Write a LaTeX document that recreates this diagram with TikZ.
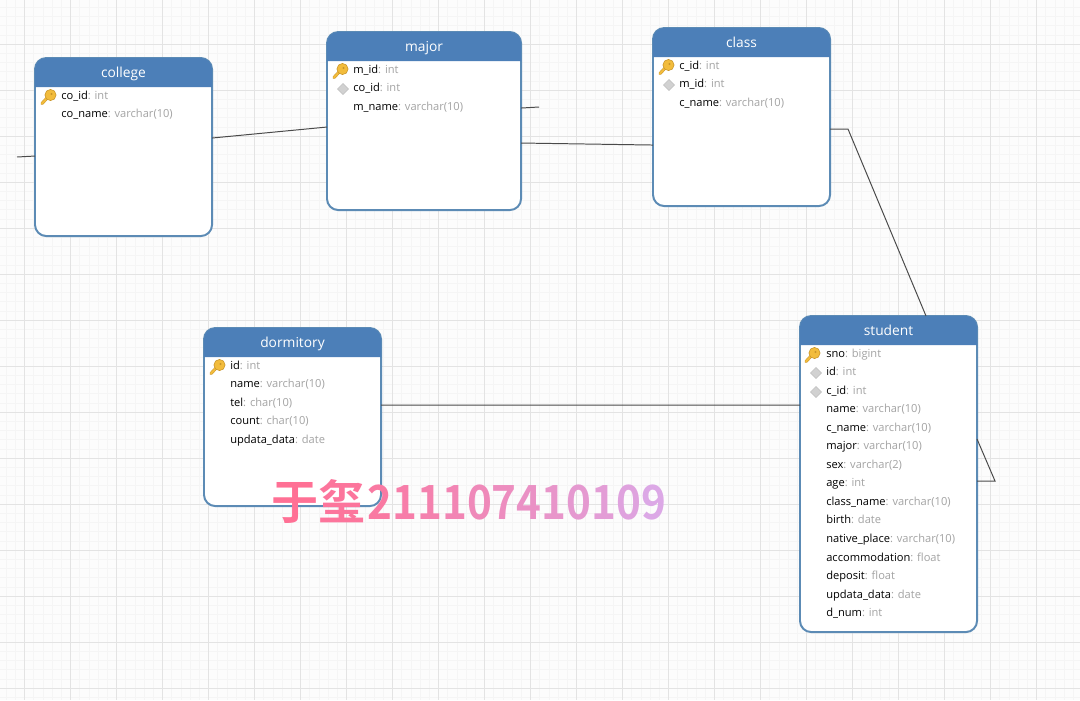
\documentclass[tikz,border=0pt]{standalone}
\usepackage{fontspec}
\usepackage{xcolor}
\usetikzlibrary{calc,shapes.geometric}
\setmainfont{Open Sans}
\newfontfamily\cjkbold{Noto Sans CJK SC Bold}
\newfontfamily\digitbold[FakeStretch=0.895]{Noto Sans CJK SC Bold}
\definecolor{headblue}{HTML}{4C7FB8}
\definecolor{edgeblue}{HTML}{5C8BB5}
\definecolor{typegray}{HTML}{A3A3A3}
\definecolor{linkgray}{HTML}{4A4A4A}
\definecolor{keygold}{HTML}{F2BC3C}
\definecolor{keyedge}{HTML}{C9952A}
\definecolor{markampink}{HTML}{FF7095}
\definecolor{marklilac}{HTML}{DCA8E6}
\tikzset{
	tablebox/.style={draw=edgeblue, line width=1.4pt, fill=white, rounded corners=8, anchor=north west, inner sep=0pt, outer sep=0pt},
	tabletitle/.style={anchor=base, text=white, inner sep=0pt, font=\fontsize{9.8}{11}\selectfont},
	rowtext/.style={anchor=base west, inner sep=0pt, font=\fontsize{7.9}{10}\selectfont},
	fkmark/.style={diamond, draw=black!25, fill=black!18, line width=0.4pt, minimum size=8pt, inner sep=0pt},
	link/.style={draw=linkgray, line width=0.7pt},
	minorgrid/.style={draw=black!4, line width=0.35pt},
	majorgrid/.style={draw=black!11, line width=0.45pt},
	keyicon/.pic={
		\draw[keyedge, line width=2.2pt, line cap=round] (-5,6.5) -- (1,0);
		\draw[keygold, line width=1.5pt, line cap=round] (-5,6.5) -- (1,0);
		\fill[keygold, draw=keyedge, line width=0.4pt] (3.5,-2) circle[radius=5.6];
		\fill[keyedge] (4.5,-3) circle[radius=1.1];
	}
}
\begin{document}
\begin{tikzpicture}[x=0.025cm, y=-0.025cm]
	\useasboundingbox (0,0) rectangle (1080,700);
	\fill[black!1] (0,0) rectangle (1080,700);

	% Grid
	\foreach \i in {0,...,117} {
		\draw[minorgrid] ({6.1+9.2*\i},0) -- ({6.1+9.2*\i},700);
	}
	\foreach \i in {0,...,76} {
		\draw[minorgrid] (0,{7.2+9.2*\i}) -- (1080,{7.2+9.2*\i});
	}
	\foreach \i in {0,...,23} {
		\draw[majorgrid] ({24.5+46*\i},0) -- ({24.5+46*\i},700);
	}
	\foreach \i in {0,...,15} {
		\draw[majorgrid] (0,{44+46*\i}) -- (1080,{44+46*\i});
	}

	% Tables
	\node[tablebox, minimum width=4.425cm, minimum height=4.45cm] (college) at (35,58) {};
	\node[tablebox, minimum width=4.85cm, minimum height=4.45cm] (major) at (327,32) {};
	\node[tablebox, minimum width=4.425cm, minimum height=4.45cm] (class) at (653,28) {};
	\node[tablebox, minimum width=4.425cm, minimum height=4.45cm] (dormitory) at (204,328) {};
	\node[tablebox, minimum width=4.425cm, minimum height=7.9cm] (student) at (800,316) {};

	% Title bars
	\foreach \tbl in {college,major,class,dormitory,student} {
		\fill[headblue] ($(\tbl.north west)+(0,29)$) [rounded corners=8] -- (\tbl.north west) -- (\tbl.north east) [sharp corners] -- ($(\tbl.north east)+(0,29)$) -- cycle;
		\node[tabletitle] (\tbl-title) at ($(\tbl.north)+(0,19)$) {\tbl};
	}

	% Columns
	\foreach \nm/\tp [count=\i] in {co\_id/int, co\_name/varchar(10)} {
		\node[rowtext] (college-\i) at (61,{99+18.5*(\i-1)}) {\nm\textcolor{typegray}{: \tp}};
	}
	\foreach \nm/\tp [count=\i] in {m\_id/int, co\_id/int, m\_name/varchar(10)} {
		\node[rowtext] (major-\i) at (353,{73+18.5*(\i-1)}) {\nm\textcolor{typegray}{: \tp}};
	}
	\foreach \nm/\tp [count=\i] in {c\_id/int, m\_id/int, c\_name/varchar(10)} {
		\node[rowtext] (class-\i) at (679,{69+18.5*(\i-1)}) {\nm\textcolor{typegray}{: \tp}};
	}
	\foreach \nm/\tp [count=\i] in {id/int, name/varchar(10), tel/char(10), count/char(10), updata\_data/date} {
		\node[rowtext] (dormitory-\i) at (230,{369+18.5*(\i-1)}) {\nm\textcolor{typegray}{: \tp}};
	}
	\foreach \nm/\tp [count=\i] in {sno/bigint, id/int, c\_id/int, name/varchar(10), c\_name/varchar(10), major/varchar(10), sex/varchar(2), age/int, class\_name/varchar(10), birth/date, native\_place/varchar(10), accommodation/float, deposit/float, updata\_data/date, d\_num/int} {
		\node[rowtext] (student-\i) at (826,{357+18.55*(\i-1)}) {\nm\textcolor{typegray}{: \tp}};
	}

	% Primary keys
	\pic at (47,97) {keyicon};
	\pic at (339,71) {keyicon};
	\pic at (665,67) {keyicon};
	\pic at (216,367) {keyicon};
	\pic at (811,355) {keyicon};

	% Foreign keys
	\node[fkmark] (major-fk) at (343,89) {};
	\node[fkmark] (class-fk) at (669,85) {};
	\node[fkmark] (student-fk1) at (816,373) {};
	\node[fkmark] (student-fk2) at (816,392) {};

	% Free line ends
	\coordinate (collegestub) at (17,157);
	\coordinate (majorstub) at (539,107);
	\coordinate (classbend) at (848,129);
	\coordinate (studentbend) at (995,481);

	% Links
	\draw[link] (collegestub) -- ($(college.west)+(0,9)$);
	\draw[link] ($(college.east)+(0,-9)$) -- ($(major.west)+(0,6)$);
	\draw[link] ($(major.east)+(0,-13)$) -- (majorstub);
	\draw[link] ($(major.east)+(0,22)$) -- ($(class.west)+(0,28)$);
	\draw[link] ($(class.east)+(0,12)$) -- (classbend) -- ($(student.north)+(37.5,0)$);
	\draw[link] ($(dormitory.east)+(0,-12)$) -- ($(student.west)+(0,-69)$);
	\draw[link] ($(student.east)+(0,-35)$) -- (studentbend) -- ($(student.east)+(0,7)$);

	% Name mark
	\node[anchor=base west, inner sep=0pt, font=\cjkbold\fontsize{33.5}{38}\selectfont] (namemark) at (271,519) {%
		\textcolor{markampink}{于}\textcolor{markampink!92!marklilac}{玺}\kern1.5pt\digitbold\textcolor{markampink!84!marklilac}{2}\textcolor{markampink!76!marklilac}{1}\textcolor{markampink!69!marklilac}{1}\textcolor{markampink!62!marklilac}{1}\textcolor{markampink!55!marklilac}{0}\textcolor{markampink!48!marklilac}{7}\textcolor{markampink!41!marklilac}{4}\textcolor{markampink!34!marklilac}{1}\textcolor{markampink!27!marklilac}{0}\textcolor{markampink!20!marklilac}{1}\textcolor{markampink!10!marklilac}{0}\textcolor{marklilac}{9}};
\end{tikzpicture}
\end{document}
